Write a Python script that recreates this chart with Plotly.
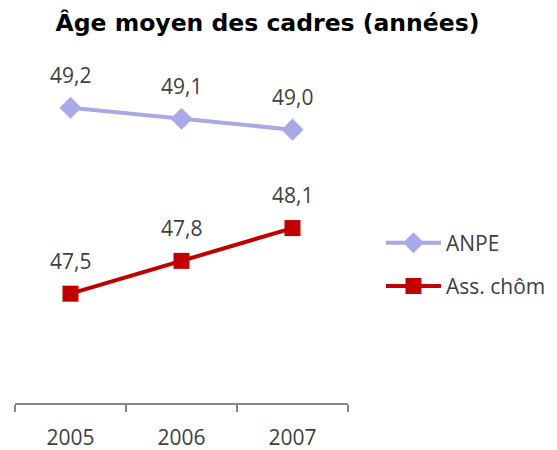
import plotly.graph_objects as go

years = ["2005", "2006", "2007"]
anpe = [49.2, 49.1, 49.0]
ass_chom = [47.5, 47.8, 48.1]
series_names = ["ANPE", "Ass. chôm"]
title_text = "Âge moyen des cadres (années)"

label_font = dict(family="Open Sans, Segoe UI, sans-serif", size=21, color="#404040")

fig = go.Figure()
fig.add_trace(go.Scatter(
    x=years, y=anpe, name=series_names[0], mode="lines+markers",
    line=dict(color="#A9A9E8", width=4),
    marker=dict(symbol="diamond", size=17, color="#A9A9E8"),
    legendgroup="a",
))
fig.add_trace(go.Scatter(
    x=years, y=ass_chom, name=series_names[1], mode="lines+markers",
    line=dict(color="#C00000", width=4),
    marker=dict(symbol="square", size=16, color="#C00000"),
    legendgroup="b",
))

for ys in (anpe, ass_chom):
    for i, yv in enumerate(ys):
        fig.add_annotation(
            x=i, y=yv, xref="x", yref="y",
            text=f"{yv:.1f}".replace(".", ","),
            showarrow=False, yshift=33, font=label_font,
        )

fig.update_layout(
    width=557, height=450,
    margin=dict(l=15, r=209, t=75, b=47, autoexpand=False),
    paper_bgcolor="white", plot_bgcolor="white",
    title=dict(
        text=f"<b>{title_text}</b>",
        font=dict(family="DejaVu Sans, Verdana, sans-serif", size=23.5, color="black"),
        x=267.5 / 557, xanchor="center", xref="container",
        y=1 - 23 / 450, yref="container", yanchor="middle",
    ),
    showlegend=True,
    legend=dict(
        x=1.099, xref="paper", xanchor="left", y=0.422, yanchor="middle",
        font=label_font, itemwidth=55, tracegroupgap=13,
        bgcolor="rgba(0,0,0,0)",
    ),
    xaxis=dict(
        type="category", range=[-0.5, 2.5],
        showline=True, linecolor="#868686", linewidth=1.5,
        ticks="outside", tickson="boundaries", ticklen=7, tickcolor="#868686", tickwidth=1.5,
        showgrid=False, zeroline=False,
        tickfont=label_font, ticklabelstandoff=15,
    ),
    yaxis=dict(range=[46.5, 49.5], visible=False, showgrid=False, zeroline=False),
)

fig.write_html(
    "out.html",
    config={"displayModeBar": False},
    post_script="document.body.style.margin='0';document.body.style.overflow='hidden';",
)
